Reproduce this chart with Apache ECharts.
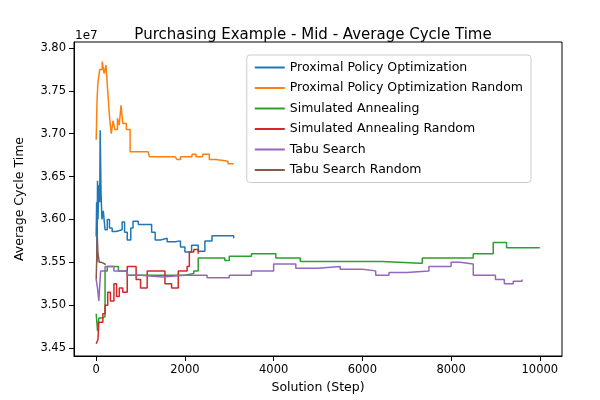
<!DOCTYPE html>
<html>
<head>
<meta charset="utf-8">
<script src="https://cdn.jsdelivr.net/npm/echarts@6/dist/echarts.min.js"></script>
<style>html,body{margin:0;padding:0;background:#fff}#chart{width:600px;height:400px}</style>
</head>
<body>
<div id="chart"></div>
<script>
// values in units of 1e7, [step, value]
var ppo = [[0,3.58],[10,3.62],[20,3.55],[30,3.645],[40,3.60],[60,3.64],[80,3.62],[90,3.704],[110,3.63],[130,3.60],[160,3.61],[200,3.588],[250,3.60],[300,3.59],[360,3.586],[450,3.588],[585,3.597],[640,3.585],[700,3.576],[780,3.59],[830,3.598],[950,3.594],[1170,3.594],[1250,3.585],[1330,3.576],[1450,3.578],[1600,3.574],[1780,3.575],[1900,3.568],[2000,3.562],[2150,3.570],[2300,3.563],[2450,3.575],[2610,3.581],[2800,3.581],[2970,3.581],[3100,3.578]];
var ppoRandom = [[0,3.693],[20,3.74],[40,3.76],[80,3.775],[135,3.784],[180,3.77],[220,3.78],[260,3.75],[300,3.72],[340,3.70],[380,3.715],[420,3.705],[480,3.718],[520,3.71],[560,3.733],[600,3.712],[680,3.705],[765,3.679],[900,3.679],[1170,3.679],[1200,3.673],[1780,3.673],[1820,3.670],[1900,3.673],[2100,3.673],[2160,3.676],[2250,3.673],[2400,3.676],[2550,3.670],[2700,3.668],[2970,3.665],[3100,3.665]];
var sa = [[0,3.49],[30,3.47],[60,3.485],[150,3.487],[200,3.54],[250,3.545],[400,3.545],[500,3.54],[700,3.535],[1000,3.535],[1500,3.535],[2000,3.537],[2200,3.54],[2300,3.555],[2900,3.552],[3000,3.557],[3400,3.557],[3500,3.56],[4000,3.56],[4050,3.555],[4500,3.555],[4600,3.551],[6400,3.551],[6450,3.549],[7300,3.549],[7350,3.555],[8400,3.555],[8500,3.56],[8900,3.56],[8950,3.573],[9200,3.573],[9250,3.567],[10000,3.567]];
var saRandom = [[0,3.455],[40,3.46],[60,3.48],[150,3.49],[200,3.50],[260,3.515],[320,3.505],[400,3.525],[460,3.51],[520,3.52],[600,3.515],[700,3.545],[850,3.545],[900,3.53],[1000,3.52],[1150,3.54],[1450,3.54],[1550,3.525],[1700,3.52],[1850,3.54],[2050,3.545],[2100,3.562],[2200,3.565],[2300,3.56]];
var tabu = [[0,3.53],[30,3.52],[60,3.505],[100,3.54],[200,3.545],[400,3.54],[700,3.535],[1000,3.533],[1500,3.535],[2000,3.535],[2500,3.532],[3000,3.535],[3500,3.54],[4000,3.548],[4500,3.543],[5000,3.545],[5500,3.542],[6000,3.54],[6300,3.535],[6600,3.538],[7000,3.54],[7500,3.545],[8000,3.55],[8200,3.548],[8500,3.535],[9000,3.53],[9200,3.525],[9400,3.528],[9600,3.53]];
var tabuRandom = [[0,3.53],[15,3.56],[25,3.58],[40,3.56],[70,3.55],[120,3.548],[200,3.547]];

var seriesNames = ['Proximal Policy Optimization', 'Proximal Policy Optimization Random', 'Simulated Annealing', 'Simulated Annealing Random', 'Tabu Search', 'Tabu Search Random'];
var seriesData = [ppo, ppoRandom, sa, saRandom, tabu, tabuRandom];
var colors = ['#1f77b4', '#ff7f0e', '#2ca02c', '#d62728', '#9467bd', '#8c564b'];
var xTicks = [0, 2000, 4000, 6000, 8000, 10000];
var yTicks = [3.45e7, 3.5e7, 3.55e7, 3.6e7, 3.65e7, 3.7e7, 3.75e7, 3.8e7];

var chart = echarts.init(document.getElementById('chart'));
var series = [];
seriesData.forEach(function(d, i) {
  series.push({
    name: seriesNames[i],
    type: 'line',
    step: 'end',
    showSymbol: false,
    data: d.map(function(p) { return [p[0], p[1] * 1e7]; }),
    lineStyle: { width: 1.5, color: colors[i] },
    itemStyle: { color: colors[i] },
    animation: false
  });
});

var option = {
  title: {
    text: 'Purchasing Example - Mid - Average Cycle Time',
    left: 308, top: 23, textAlign: 'center',
    textStyle: { fontFamily: 'DejaVu Sans', fontSize: 15, fontWeight: 'normal', color: '#000' }
  },
  legend: {
    orient: 'vertical', right: 69, top: 55,
    itemWidth: 30, itemHeight: 2, itemGap: 7.5,
    backgroundColor: 'rgba(255,255,255,0.8)', borderColor: '#ccc', borderWidth: 1, borderRadius: 3,
    padding: [6, 8],
    icon: 'rect',
    textStyle: { fontFamily: 'DejaVu Sans', fontSize: 12.5, color: '#000' },
    data: seriesNames
  },
  graphic: [{ type: 'text', left: 75, top: 30, style: { text: '1e7', font: '12px DejaVu Sans', fill: '#000' } }],
  grid: { left: 74, right: 38, top: 42, bottom: 44, show: true, borderColor: '#000', borderWidth: 1, backgroundColor: 'transparent' },
  xAxis: {
    type: 'value', min: -500, max: 10500,
    name: 'Solution (Step)', nameLocation: 'middle', nameGap: 24,
    nameTextStyle: { fontFamily: 'DejaVu Sans', fontSize: 12.5, color: '#000' },
    axisLine: { onZero: false, lineStyle: { color: '#000' } },
    axisTick: { show: true, lineStyle: { color: '#000' }, customValues: xTicks },
    axisLabel: { color: '#000', fontFamily: 'DejaVu Sans', fontSize: 11.5, customValues: xTicks,
      formatter: function(v) { return String(v); } },
    splitLine: { show: false }
  },
  yAxis: {
    type: 'value', min: 3.4407e7, max: 3.807e7,
    name: 'Average Cycle Time', nameLocation: 'middle', nameGap: 48,
    nameTextStyle: { fontFamily: 'DejaVu Sans', fontSize: 12.5, color: '#000' },
    axisLine: { show: true, onZero: false, lineStyle: { color: '#000' } },
    axisTick: { show: true, lineStyle: { color: '#000' }, customValues: yTicks },
    axisLabel: { color: '#000', fontFamily: 'DejaVu Sans', fontSize: 11.5, customValues: yTicks,
      formatter: function(v) { return (v / 1e7).toFixed(2); } },
    splitLine: { show: false }
  },
  series: series
};
chart.setOption(option);
</script>
</body>
</html>
